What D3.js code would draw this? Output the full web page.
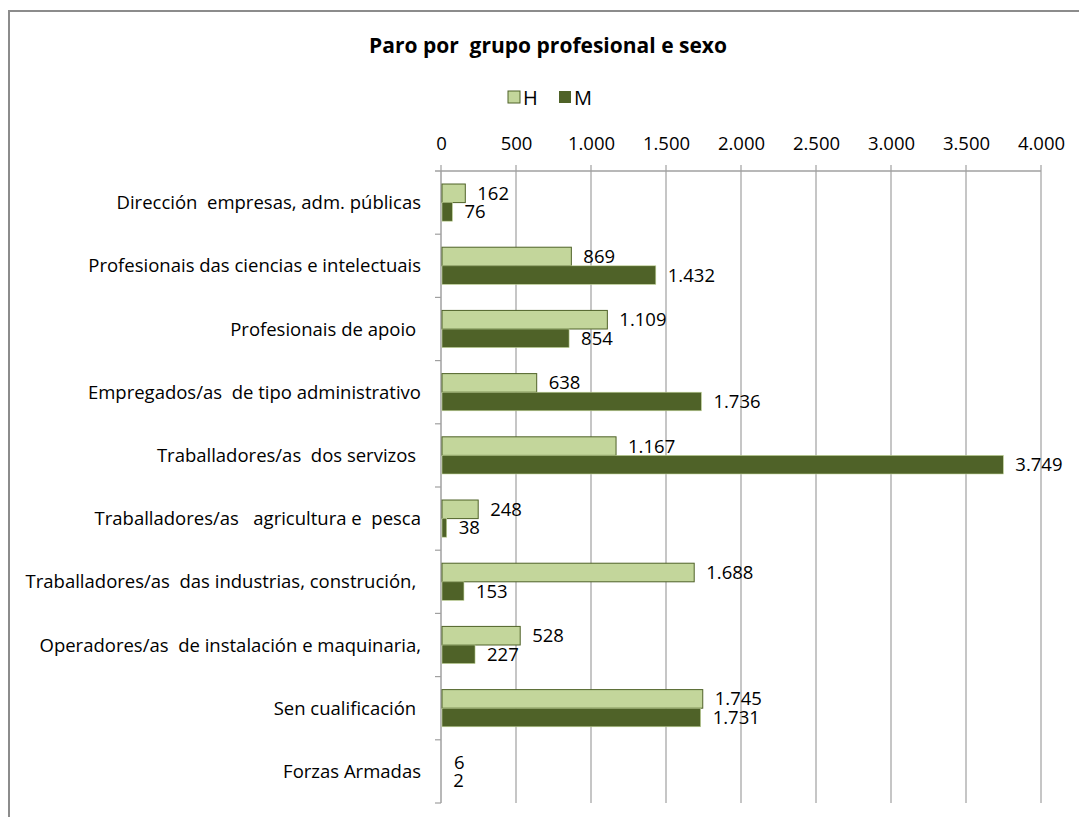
<!DOCTYPE html>
<html><head><meta charset="utf-8">
<script src="https://cdn.jsdelivr.net/npm/d3@7"></script>
<style>body{margin:0;background:#fff}svg{display:block}text{font-family:"Open Sans",sans-serif}</style>
</head><body>
<svg id="c" width="1079" height="817"></svg>
<script>
const categories = [
  "Dirección  empresas, adm. públicas",
  "Profesionais das ciencias e intelectuais",
  "Profesionais de apoio ",
  "Empregados/as  de tipo administrativo",
  "Traballadores/as  dos servizos ",
  "Traballadores/as   agricultura e  pesca",
  "Traballadores/as  das industrias, construción, ",
  "Operadores/as  de instalación e maquinaria,",
  "Sen cualificación ",
  "Forzas Armadas"
];
const seriesNames = ["H", "M"];
const valuesH = [162, 869, 1109, 638, 1167, 248, 1688, 528, 1745, 6];
const valuesM = [76, 1432, 854, 1736, 3749, 38, 153, 227, 1731, 2];
const tickValues = [0, 500, 1000, 1500, 2000, 2500, 3000, 3500, 4000];
const title = "Paro por  grupo profesional e sexo";
const colors = {H: "#c3d69b", M: "#4f6228"};

const fmt = v => d3.format(",")(v).replace(/,/g, ".");
const svg = d3.select("#c");

svg.append("rect").attr("x", 9).attr("y", 11).attr("width", 1100).attr("height", 850)
  .attr("fill", "#fff").attr("stroke", "#8c8c8c").attr("stroke-width", 2);

svg.append("text").attr("x", 548).attr("y", 53).attr("text-anchor", "middle")
  .attr("font-size", 21).attr("font-weight", "bold").attr("fill", "#000")
  .style("white-space", "pre").text(title);

const leg = svg.append("g");
const legX = [508, 559];
seriesNames.forEach((s, i) => {
  leg.append("rect").attr("x", legX[i]).attr("y", 91).attr("width", 12).attr("height", 12)
    .attr("fill", colors[s]).attr("stroke", s === "H" ? "#4f6228" : "none").attr("stroke-width", 1);
  leg.append("text").attr("x", legX[i] + 15).attr("y", 104.5).attr("font-size", 20).text(s);
});

const x = d3.scaleLinear().domain([0, 4000]).range([441, 1041]);
const y = d3.scaleBand().domain(categories).range([171, 803]).padding(0);
const yi = d3.scaleBand().domain(seriesNames).range([0, y.bandwidth()]).paddingInner(0).paddingOuter(0.7);

svg.append("g").selectAll("line").data(tickValues.slice(1)).join("line")
  .attr("x1", d => x(d)).attr("x2", d => x(d)).attr("y1", 165).attr("y2", 803)
  .attr("stroke", "#a0a0a0").attr("stroke-width", 1.2);

const xAxis = d3.axisTop(x).tickValues(tickValues).tickFormat(fmt).tickSize(0).tickPadding(21);
const gx = svg.append("g").attr("transform", "translate(0,171)").call(xAxis);
gx.select(".domain").remove();
gx.selectAll("text").attr("font-size", 18.5).attr("fill", "#000").attr("font-family", "Open Sans");
svg.append("line").attr("x1", 435).attr("x2", 1041).attr("y1", 171).attr("y2", 171)
  .attr("stroke", "#a0a0a0").attr("stroke-width", 1.5);
svg.append("line").attr("x1", 441).attr("x2", 441).attr("y1", 165).attr("y2", 171)
  .attr("stroke", "#a0a0a0").attr("stroke-width", 1.2);

svg.append("line").attr("x1", 441).attr("x2", 441).attr("y1", 171).attr("y2", 803)
  .attr("stroke", "#a0a0a0").attr("stroke-width", 1.5);
const bounds = categories.map(c => y(c) + y.bandwidth());
svg.append("g").selectAll("line").data(bounds).join("line")
  .attr("x1", 435).attr("x2", 441).attr("y1", d => d).attr("y2", d => d)
  .attr("stroke", "#a0a0a0").attr("stroke-width", 1.2);
svg.append("g").selectAll("text").data(categories).join("text")
  .attr("x", 421).attr("y", d => y(d) + y.bandwidth() / 2 + 6.5)
  .attr("text-anchor", "end").attr("font-size", 18.5).style("white-space", "pre").text(d => d);

const rows = categories.map((c, i) => ({c, H: valuesH[i], M: valuesM[i]}));
const g = svg.append("g");
seriesNames.forEach(s => {
  g.selectAll(".b" + s).data(rows).join("rect")
    .attr("x", x(0) + 1).attr("y", d => y(d.c) + yi(s))
    .attr("width", d => Math.max(0, x(d[s]) - x(0) - 1)).attr("height", yi.bandwidth())
    .attr("fill", colors[s]).attr("stroke", s === "H" ? "#4f6228" : "#c3d69b")
    .attr("stroke-width", s === "H" ? 1 : 0.6);
  g.selectAll(".l" + s).data(rows).join("text")
    .attr("x", d => x(d[s]) + 12).attr("y", d => y(d.c) + yi(s) + yi.bandwidth() / 2 + 6.5)
    .attr("font-size", 18.5).text(d => fmt(d[s]));
});
</script>
</body></html>
